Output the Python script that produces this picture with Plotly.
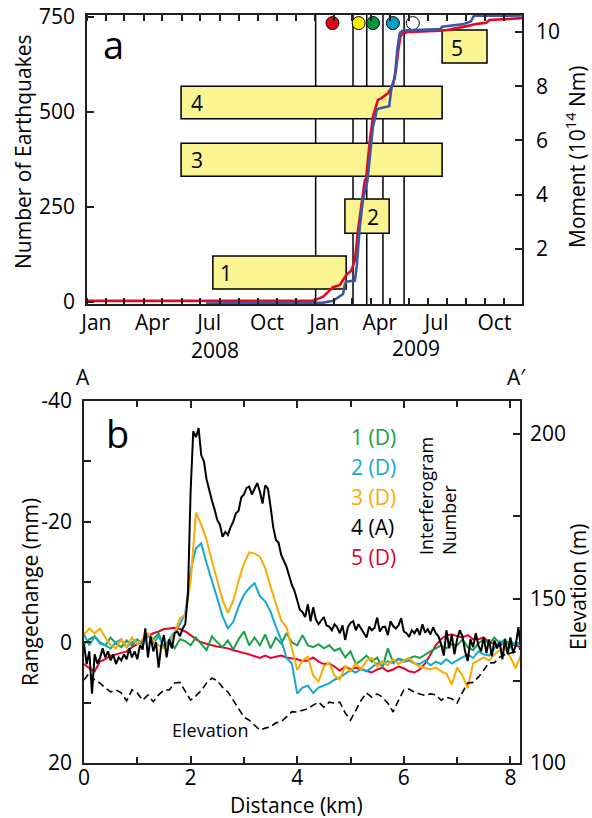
import plotly.graph_objects as go

# ---------------- Panel a data ----------------
eq_dates = ['2008-01-01', '2008-12-28', '2009-01-01', '2009-01-14', '2009-01-30', '2009-02-10',
            '2009-02-15', '2009-02-20', '2009-02-28', '2009-03-06', '2009-03-11', '2009-03-17',
            '2009-03-22', '2009-03-24', '2009-03-27', '2009-03-30', '2009-04-04', '2009-04-08',
            '2009-04-12', '2009-04-17', '2009-04-28', '2009-05-06', '2009-05-11', '2009-05-14',
            '2009-05-18', '2009-05-22', '2009-06-02', '2009-07-21', '2009-08-01', '2009-09-02',
            '2009-09-18', '2009-10-03', '2009-10-08', '2009-11-29']
eq_count = [3, 3, 5, 14, 39, 45, 58, 71, 82, 110, 190, 268, 321, 325, 374, 426, 488, 514,
            532, 536, 549, 571, 611, 655, 698, 707, 711, 714, 716, 726, 732, 735, 742, 747]

mo_dates = ['2008-07-10', '2009-01-14', '2009-01-30', '2009-02-07', '2009-02-15', '2009-02-18',
            '2009-02-20', '2009-03-06', '2009-03-09', '2009-03-14', '2009-03-19', '2009-03-26',
            '2009-04-02', '2009-04-04', '2009-04-08', '2009-04-10', '2009-04-17', '2009-04-30',
            '2009-05-04', '2009-05-09', '2009-05-13', '2009-05-17', '2009-05-22', '2009-07-21',
            '2009-07-24', '2009-08-28', '2009-09-08', '2009-09-13', '2009-11-29']
mo_value = [0, 0.03, 0.1, 0.23, 0.35, 0.72, 0.8, 0.84, 1.39, 2.86, 3.83, 4.5, 6.03, 6.52,
            6.89, 7.14, 7.2, 7.26, 7.99, 8.3, 9.34, 9.95, 10.05, 10.1, 10.19, 10.29, 10.38,
            10.59, 10.6]

# interferogram acquisition markers and event lines
ifg_dates = ['2009-01-29', '2009-03-12', '2009-04-04', '2009-05-06', '2009-06-07']
ifg_colors = ['#E30613', '#FFED00', '#009640', '#00A0C6', '#FFFFFF']
ifg_level = [734, 734, 734, 734, 734]
vline_dates = ['2009-01-02', '2009-03-03', '2009-03-25', '2009-04-20', '2009-05-24']

# interferogram time spans (boxes)
box_labels = ['1', '2', '3', '4', '5']
box_start = ['2008-07-21', '2009-02-18', '2008-05-31', '2008-05-31', '2009-07-24']
box_end = ['2009-02-20', '2009-04-30', '2009-07-24', '2009-07-24', '2009-10-04']
box_low = [34, 181, 331, 482, 629]
box_high = [121, 271, 418, 568, 716]
box_label_date = ['2008-08-11', '2009-04-04', '2008-06-25', '2008-06-25', '2009-08-17']
box_label_val = [76, 224, 374, 524, 669]

month_label_dates = ['2008-01-16', '2008-04-15', '2008-07-15', '2008-10-16',
                     '2009-01-16', '2009-04-15', '2009-07-15', '2009-10-16']
month_labels = ['Jan', 'Apr', 'Jul', 'Oct', 'Jan', 'Apr', 'Jul', 'Oct']

# ---------------- Panel b data ----------------
dist_fine = [round(i * 0.05, 2) for i in range(165)]
dist = [round(i * 0.1, 1) for i in range(83)]

rc4_black = [0.3, 3.6, 1.5, 8.5, 2, 3.5, 2.6, 1, 2.5, 1.5,
             3, 2, 3.6, 2.5, 3, 2, 2.8, 1, 2.5, 1.5,
             2.8, 0.5, 1.2, -2.3, 2.5, -1, 1.5, 0, 4.2, 0.5,
             -1.2, 2.5, -0.5, 1, -1.5, -1.8, -1, -2.3, -3, -8,
             -25, -35, -34, -35.5, -31, -30, -27, -25, -23.5, -22,
             -20.3, -19.5, -17.5, -18.3, -17.8, -19.1, -20, -21.4, -21.8, -24,
             -24.5, -25.6, -25.8, -24.5, -25.5, -26.4, -25, -23, -26, -25.5,
             -22.5, -19.1, -17, -16.5, -14.5, -13.6, -12.5, -11, -9.5, -8.5,
             -7, -5.4, -5, -4.2, -6.3, -3.5, -5.8, -3.8, -3, -3.7,
             -4.2, -2.8, -2.6, -2, -3, -2.5, -1.5, -2.8, -0.4, -2.5,
             -3.2, -3.5, -2, -3, -2.2, -1.5, -0.8, -2.6, -2, -2.4,
             -4.1, -1.8, -2.5, -2.6, -1.2, -3.5, -2.7, -2.3, -2.8, -4,
             -1.8, -1.5, -0.9, -2, -1.5, -2.3, -1.2, -3, -1.6, -2.2,
             -1.3, -2.5, -1.5, -1, 0.3, 2.2, -2, 1, -1.3, 2,
             -0.5, -2, -1, 1.5, 3.1, -0.5, 0.8, -1.5, 0.5, 1.5,
             -0.8, 1.8, -0.5, 2.3, -0.3, 1, 0, 2.8, -0.5, 2,
             -0.8, 1.8, 0.5, -2.5, 1]

rc2_cyan = [-1.3, 0.5, -1, 0.2, 0.5, 1, 0, -0.5, 0.8, 0,
            -0.5, 0.5, -1.3, 0.2, -1, 0.8, -0.5, -1.8, -3, -4.8,
            -11.8, -15.6, -16.4, -13.1, -10.4, -7.3, -4.3, -2.3, -3.4, -5.9,
            -7.9, -9, -9.8, -7.6, -6.8, -5.1, -2.6, -0.4, 2.6, 3.5,
            8.5, 7.5, 7.2, 8.4, 7.5, 7.2, 6.8, 6.2, 5.8, 5.2,
            4.6, 5, 4.4, 4.8, 4.1, 3.5, 3.8, 3.1, 3.5, 2.8,
            3.2, 3, 3.5, 3.6, 3, 3.8, 3.2, 3.6, 2.8, 3.5,
            3, 2.5, 2, 2.6, 1.5, 2, 2.2, 1, -0.2, 0.5,
            -0.3, 0.5, 0]

rc3_yellow = [-1.3, -2.3, -1.5, -2.3, -0.8, 0.5, 1, -0.5, 0.8, -0.8,
              0.3, -0.5, -1.5, -0.3, 0.5, 1, 0.2, -1.5, -4, -4.5,
              -10, -21.5, -19.5, -17, -13.5, -10, -7, -4.9, -6.9, -10.2,
              -13, -14.9, -14.7, -14.2, -12.3, -9.2, -6.4, -3.6, -2.5, 1.3,
              4.6, 3, 2.4, 5.5, 6.5, 4, 3.4, 5.5, 6.2, 4,
              4.8, 3.5, 4.5, 3, 2.6, 4, 3.2, 3.8, 2.8, 3.6,
              3, 2.6, 3.5, 4, 4.3, 4.5, 4.2, 4.8, 5.2, 7,
              4.2, 5.5, 7.6, 3.5, 3, 2.5, 3, 2, 1.3, 1,
              2.5, 4.3, 2]

rc1_green = [0.3, -0.5, -1, 0, 0.5, -0.8, 0.2, 0.8, -0.3, 0.5,
             -0.5, 0.3, -1.3, -0.5, -1.5, 0.8, -0.3, 1, -0.5, -0.2,
             0.5, -0.8, 0.3, 1.3, -1, 0, 0.8, -0.3, 1.2, -0.5,
             -1.8, 0.5, -0.8, 0.5, -1.3, 1, -0.8, 0.2, -1.5, 0,
             0.5, -1.2, 0.5, 0.8, 0.3, 1, 0.5, 1.4, 1, 2.5,
             1.5, 3.6, 3, 2.2, 3.2, 2.5, 4.2, 1, 3.3, 2.7,
             3, 2.6, 2.3, 2.6, 2, 1.5, 1, 0.5, 1, 0.3,
             0.5, -0.5, 0.8, 1.3, 0.2, -0.5, 0.3, -0.8, 0.2, -0.5,
             0.8, 0, 0.3]

rc5_red = [3.6, 4.3, 4.8, 3.2, 2.8, 2.2, 2, 1.8, 1.5, 0.8,
           0.3, -0.2, -1, -1.5, -1.8, -2.2, -2.3, -2.4, -2.2, -1.8,
           -1.2, -0.5, 0, 0.3, 0.5, 0.7, 0.8, 1, 1.3, 1.5,
           1.8, 2, 2.3, 2.6, 2.2, 2.6, 2.4, 2.2, 2.5, 2.6,
           2.8, 3.1, 3, 2.5, 3.2, 3.6, 3.5, 4, 4.7, 4,
           4.5, 4.2, 4.5, 4.7, 5, 4.5, 4.2, 4.8, 4.5, 4,
           4.3, 4.8, 5, 4.5, 3.5, 2, 0.5, -0.5, -1.2, -1.3,
           -1, -0.8, -1.2, -0.5, -0.5, -0.8, 0, 0.2, 0.5, 0,
           0.3, 0.5, 0.8]

elevation = [125.2, 127.4, 125.2, 124.3, 122.8, 121.6, 122.2, 121.3, 118.9, 122.2,
             121.3, 119.1, 120.7, 118.6, 120.7, 122.2, 122.2, 124.3, 124.5, 121.7,
             119.1, 120.4, 122, 124.3, 125.8, 125, 123, 121.6, 119.1, 116.7,
             114, 113, 111.5, 110, 110.6, 111, 112.2, 112.6, 114, 115.6,
             115.5, 116.1, 116.5, 117.6, 118.5, 117, 118.5, 118.2, 118.5, 115.2,
             113, 116, 119.1, 121.3, 120, 121, 120, 118.2, 115.5, 119,
             122.2, 122.5, 121.5, 121, 120.5, 121, 120.7, 119.1, 120, 119.5,
             118.2, 121.5, 124.3, 124.5, 126.1, 128.3, 130.4, 130.5, 132.2, 133,
             133.4, 133.8, 135]

legend_labels = ['1 (D)', '2 (D)', '3 (D)', '4 (A)', '5 (D)']
c_green, c_cyan, c_yellow, c_black, c_red = '#1AA049', '#12A8D0', '#F6AD00', '#000000', '#E4032C'
legend_colors = [c_green, c_cyan, c_yellow, c_black, c_red]

# ---------------- Figure ----------------
W, H = 592, 818
def fx(p): return p / W
def fy(p): return 1 - p / H

FONT = 'Open Sans'
LC = '#231F20'
fig = go.Figure()

# Panel a traces
fig.add_trace(go.Scatter(x=eq_dates, y=eq_count, mode='lines', line=dict(color='#E30A23', width=2.6),
                         xaxis='x', yaxis='y', showlegend=False, hoverinfo='skip'))
fig.add_trace(go.Scatter(x=mo_dates, y=mo_value, mode='lines', line=dict(color='#3D55A5', width=2.6),
                         xaxis='x', yaxis='y2', showlegend=False, hoverinfo='skip'))
fig.add_trace(go.Scatter(x=ifg_dates, y=ifg_level, mode='markers',
                         marker=dict(size=13, color=ifg_colors, line=dict(color='black', width=1)),
                         xaxis='x', yaxis='y', showlegend=False, hoverinfo='skip', cliponaxis=False))

# Panel b traces
fig.add_trace(go.Scatter(x=dist, y=elevation, mode='lines', line=dict(color='black', width=1.6, dash='7px,4px'),
                         xaxis='x2', yaxis='y4', showlegend=False, hoverinfo='skip'))
for vals, col, xs in [(rc5_red, c_red, dist), (rc1_green, c_green, dist), (rc2_cyan, c_cyan, dist),
                      (rc3_yellow, c_yellow, dist), (rc4_black, c_black, dist_fine)]:
    fig.add_trace(go.Scatter(x=xs, y=vals, mode='lines', line=dict(color=col, width=2),
                             xaxis='x2', yaxis='y3', showlegend=False, hoverinfo='skip'))

shapes = []
for s, e, lo, hi in zip(box_start, box_end, box_low, box_high):
    shapes.append(dict(type='rect', xref='x', yref='y', x0=s, x1=e, y0=lo, y1=hi,
                       fillcolor='#FAF591', line=dict(color='black', width=1.5), layer='below'))
for d in vline_dates:
    shapes.append(dict(type='line', xref='x', yref='y domain', x0=d, x1=d, y0=0, y1=1,
                       line=dict(color='black', width=1.5), layer='below'))

ann = []
def A(text, x, y, size=21, color='black', **kw):
    d = dict(text=text, x=fx(x), y=fy(y), xref='paper', yref='paper', showarrow=False,
             font=dict(family=FONT, size=size, color=color), xanchor='center', yanchor='middle')
    d.update(kw)
    ann.append(d)

for lab, d, v in zip(box_labels, box_label_date, box_label_val):
    ann.append(dict(text=lab, x=d, y=v, xref='x', yref='y', showarrow=False,
                    font=dict(family=FONT, size=21, color='black')))

A('a', 113, 44, size=38)
A('b', 117, 433, size=38)
A('2008', 215, 350)
A('2009', 416, 348)
A('Number of Earthquakes', 23, 152, textangle=-90)
A('Moment (10<sup>14</sup> Nm)', 575, 157, textangle=-90)
A('Rangechange (mm)', 30, 592, textangle=-90)
A('Elevation (m)', 578, 587, textangle=-90)
A('Distance (km)', 296, 805)
A('A', 83, 377)
A('A\u2032', 516, 377)
A('Elevation', 210, 730, size=18)
A('Interferogram<br>Number', 437.5, 496.5, size=18, textangle=-90, align='left')
for i, (lab, col) in enumerate(zip(legend_labels, legend_colors)):
    A(lab, 349, 437 + 30 * i, color=col, xanchor='left')

axbase = dict(showline=True, linecolor=LC, linewidth=1.5, showgrid=False, zeroline=False,
              automargin=False, ticks='inside', tickcolor=LC, tickwidth=1.5, ticklen=7,
              tickfont=dict(family=FONT, size=21, color='black'))

fig.update_layout(
    template='none',
    width=W, height=H, margin=dict(l=0, r=0, t=0, b=0, pad=0, autoexpand=False),
    paper_bgcolor='white', plot_bgcolor='white',
    font=dict(family=FONT, size=21, color='black'),
    xaxis=dict(axbase, domain=[fx(87), fx(522)], anchor='y', type='date',
               range=['2008-01-01', '2009-11-29 05:00'], tickmode='array',
               tickvals=month_label_dates, ticktext=month_labels, ticks='', mirror='ticks',
               ticklabelstandoff=-1,
               minor=dict(ticks='inside', dtick='M1', tick0='2008-01-01', ticklen=6,
                          tickwidth=1.5, tickcolor=LC)),
    yaxis=dict(axbase, domain=[fy(304), fy(15)], anchor='x', range=[-5.3, 755.3],
               tickmode='array', tickvals=[0, 250, 500, 750], ticklabelstandoff=6),
    yaxis2=dict(axbase, overlaying='y', side='right', anchor='x', range=[-0.02, 10.62],
                tickmode='array', tickvals=[2, 4, 6, 8, 10], ticklabelstandoff=8),
    xaxis2=dict(axbase, domain=[fx(84), fx(520)], anchor='y3', range=[0, 8.18],
                tickmode='array', tickvals=[0, 2, 4, 6, 8], mirror='ticks', ticklabelstandoff=-5,
                minor=dict(ticks='inside', dtick=1, ticklen=6, tickwidth=1.5, tickcolor=LC)),
    yaxis3=dict(axbase, domain=[fy(763), fy(401)], anchor='x2', range=[20, -40],
                tickmode='array', tickvals=[-40, -20, 0, 20], ticktext=['-40', '-20', '0', '20'],
                ticklabelstandoff=6,
                minor=dict(ticks='inside', dtick=10, ticklen=7, tickwidth=1.5, tickcolor=LC)),
    yaxis4=dict(axbase, overlaying='y3', side='right', anchor='x2', range=[100, 210.03],
                tickmode='array', tickvals=[100, 150, 200], ticklabelstandoff=4,
                minor=dict(ticks='inside', dtick=25, ticklen=7, tickwidth=1.5, tickcolor=LC)),
    shapes=shapes, annotations=ann,
)

fig.write_html('out.html',
               post_script="document.body.style.margin='0';document.body.style.padding='0';"
                           "document.documentElement.style.overflow='hidden';")
